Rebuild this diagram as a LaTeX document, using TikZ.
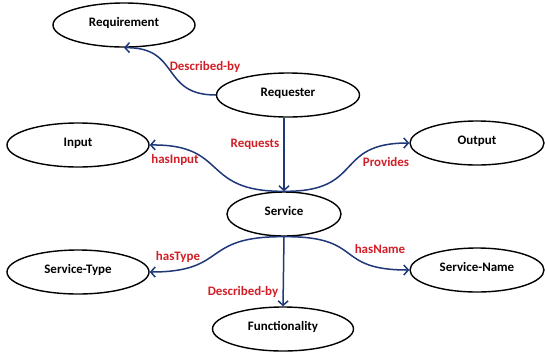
\documentclass[tikz,border=0pt]{standalone}
\usepackage{fontspec}
\setmainfont{Carlito}
\usetikzlibrary{shapes.geometric,arrows.meta}
\definecolor{linkblue}{RGB}{31,56,120}
\definecolor{labelred}{RGB}{210,30,38}

\begin{document}
\begin{tikzpicture}[x=1bp,y=-1bp,
  concept/.style={ellipse,draw=black,line width=1.4bp,inner sep=0pt,
    minimum height=44bp,text height=9bp,text depth=7bp,
    font=\fontsize{13}{15}\selectfont\bfseries},
  link/.style={draw=linkblue,line width=1.5bp,
    -{Straight Barb[length=4.5bp,width=10bp]}},
  rel/.style={text=labelred,inner sep=0pt,font=\fontsize{13}{15}\selectfont\bfseries}]
  \useasboundingbox (0,0) rectangle (545,355);

  % concepts
  \node[concept,minimum width=142bp] (req)   at (124,25)  {Requirement};
  \node[concept,minimum width=143bp] (rqs)   at (288,95)  {Requester};
  \node[concept,minimum width=142bp] (inp)   at (78,145)  {Input};
  \node[concept,minimum width=134bp] (out)   at (477,143) {Output};
  \node[concept,minimum width=114bp] (svc)   at (284,214) {Service};
  \node[concept,minimum width=142bp] (stype) at (78,272)  {Service-Type};
  \node[concept,minimum width=134bp] (sname) at (477,270) {Service-Name};
  \node[concept,minimum width=141bp] (func)  at (283,329) {Functionality};

  % relations
  \draw[link] (rqs.west) .. controls (160,95) and (181,47) .. (req.south);
  \draw[link] (svc.north |- rqs.south) -- (svc.north);
  \draw[link] (svc.north) .. controls (200,192) and (229,144) .. (inp.east);
  \draw[link] (svc.north) .. controls (365,192) and (333,143) .. (out.west);
  \draw[link] (svc.south) .. controls (200,236) and (229,272) .. (stype.east);
  \draw[link] (svc.south) .. controls (365,236) and (333,270) .. (sname.west);
  \draw[link] (svc.south) -- (func.north);

  % relation labels
  \node[rel] (l1) at (205,67)  {Described-by};
  \node[rel] (l2) at (255,144) {Requests};
  \node[rel] (l3) at (175,160) {hasInput};
  \node[rel] (l4) at (386,162) {Provides};
  \node[rel] (l5) at (178,257) {hasType};
  \node[rel] (l6) at (380,249) {hasName};
  \node[rel] (l7) at (243,292) {Described-by};
\end{tikzpicture}
\end{document}
